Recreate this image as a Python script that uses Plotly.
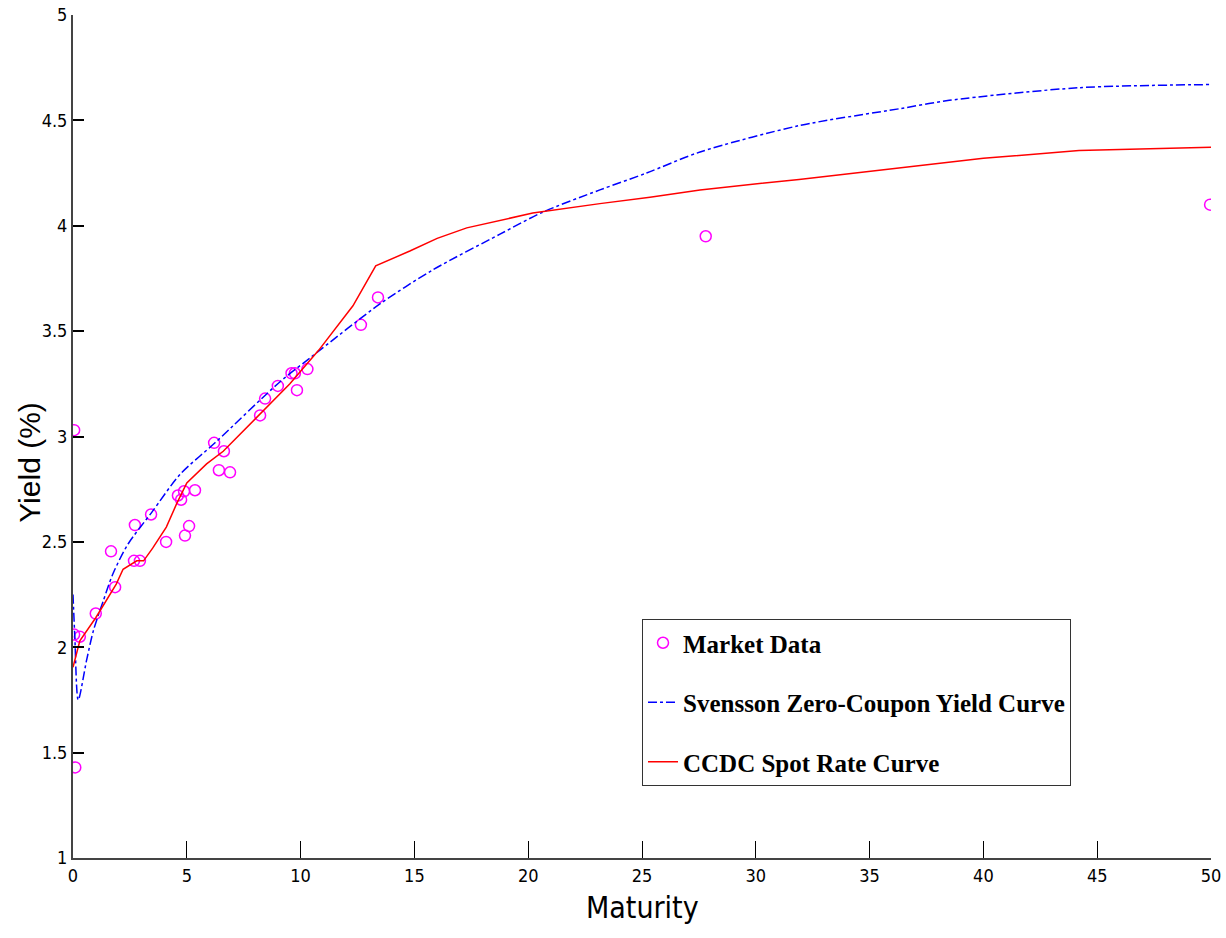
import plotly.graph_objects as go

# Market data (maturity in years, yield in %)
market_x = [0.05, 0.05, 0.3, 0.1, 1.0, 1.85, 1.67, 2.68, 2.94, 2.72, 3.43, 4.09, 4.61, 4.75,
            4.88, 4.92, 5.10, 5.36, 6.20, 6.41, 6.63, 6.90, 8.22, 8.44, 9.00, 9.60, 9.75,
            9.84, 10.3, 12.65, 13.4, 27.8, 49.96]
market_y = [3.03, 2.06, 2.05, 1.43, 2.16, 2.285, 2.455, 2.41, 2.41, 2.58, 2.63, 2.50, 2.72, 2.70,
            2.74, 2.53, 2.575, 2.745, 2.97, 2.84, 2.93, 2.83, 3.10, 3.18, 3.24, 3.30, 3.30,
            3.22, 3.32, 3.53, 3.66, 3.95, 4.10]

# Svensson zero-coupon yield curve
sv_x = [0.0, 0.08, 0.23, 0.6, 0.9, 1.33, 1.76, 2.42, 3.46, 4.7, 6.24, 9.1, 10.5, 13.5,
        15.8, 18.76, 20.65, 23.15, 25.2, 27.55, 31.9, 36.3, 38.5, 44.2, 50.0]
sv_y = [2.25, 2.05, 1.75, 1.94, 2.08, 2.22, 2.35, 2.49, 2.64, 2.82, 2.97, 3.26, 3.38, 3.63,
        3.79, 3.96, 4.065, 4.17, 4.25, 4.35, 4.475, 4.555, 4.595, 4.655, 4.67]

# CCDC spot rate curve
cc_x = [0.0, 0.3, 1.0, 1.9, 2.2, 2.8, 3.1, 3.5, 4.1, 4.55, 5.0, 5.87, 6.6, 8.07, 9.53,
        10.8, 12.3, 13.3, 14.8, 16.0, 17.3, 20.2, 23.15, 25.35, 27.55, 31.9, 36.3, 38.5,
        40.0, 44.2, 47.0, 50.0]
cc_y = [1.905, 2.03, 2.14, 2.30, 2.37, 2.41, 2.41, 2.47, 2.57, 2.68, 2.78, 2.87, 2.93, 3.09, 3.25,
        3.41, 3.62, 3.81, 3.88, 3.94, 3.99, 4.06, 4.105, 4.135, 4.17, 4.22, 4.275, 4.30,
        4.32, 4.357, 4.365, 4.372]

x_ticks = [0, 5, 10, 15, 20, 25, 30, 35, 40, 45, 50]
y_ticks = [1, 1.5, 2, 2.5, 3, 3.5, 4, 4.5, 5]
y_tick_text = ["1", "1.5", "2", "2.5", "3", "3.5", "4", "4.5", "5"]

fig = go.Figure()
fig.add_trace(go.Scatter(x=market_x, y=market_y, mode="markers", name="Market Data",
                         legendgroup="a",
                         marker=dict(symbol="circle-open", size=11, color="#ff00ff",
                                     line=dict(width=1.5, color="#ff00ff"))))
fig.add_trace(go.Scatter(x=sv_x, y=sv_y, mode="lines", name="Svensson Zero-Coupon Yield Curve",
                         legendgroup="b",
                         line=dict(color="#0000ff", width=1.5, dash="dashdot", shape="spline",
                                   smoothing=0.8)))
fig.add_trace(go.Scatter(x=cc_x, y=cc_y, mode="lines", name="CCDC Spot Rate Curve",
                         legendgroup="c",
                         line=dict(color="#ff0000", width=1.5)))

tick_font = dict(family="Liberation Sans Narrow, DejaVu Sans Condensed, Arial Narrow, sans-serif",
                 size=18, color="#000000")

fig.update_layout(
    width=1226, height=938,
    margin=dict(l=73, r=15, t=15, b=80, autoexpand=False),
    paper_bgcolor="white", plot_bgcolor="white",
    showlegend=True,
    legend=dict(x=0.5, y=0.2835, xanchor="left", yanchor="top",
                bgcolor="white", bordercolor="#333333", borderwidth=1,
                font=dict(family="Liberation Serif, Times New Roman, serif", size=25,
                          color="#000000", weight="bold"),
                tracegroupgap=24, traceorder="grouped"),
    xaxis=dict(range=[0, 50], tickvals=x_ticks, ticks="inside", ticklen=17, tickwidth=1,
               tickcolor="#000000", showline=True, linecolor="#444444", linewidth=2,
               showgrid=False, zeroline=False, tickfont=tick_font, mirror=False,
               automargin=False),
    yaxis=dict(range=[1, 5], tickvals=y_ticks, ticktext=y_tick_text, ticks="inside",
               ticklen=11, tickwidth=1.5, tickcolor="#000000", showline=True,
               linecolor="#444444", linewidth=2, showgrid=False, zeroline=False,
               tickfont=tick_font, mirror=False, automargin=False),
    annotations=[
        dict(text="Yield (%)", xref="paper", yref="paper", x=-0.0378, y=0.47,
             xanchor="center", yanchor="middle", textangle=-90, showarrow=False,
             font=dict(family="Liberation Sans, Arial, sans-serif", size=30, color="#000000")),
        dict(text="Maturity", xref="paper", yref="paper", x=0.5, y=-0.059,
             xanchor="center", yanchor="middle", showarrow=False,
             font=dict(family="Liberation Sans Narrow, DejaVu Sans Condensed, Arial Narrow, sans-serif",
                       size=30, color="#000000")),
    ],
)

fig.write_html("out.html")
